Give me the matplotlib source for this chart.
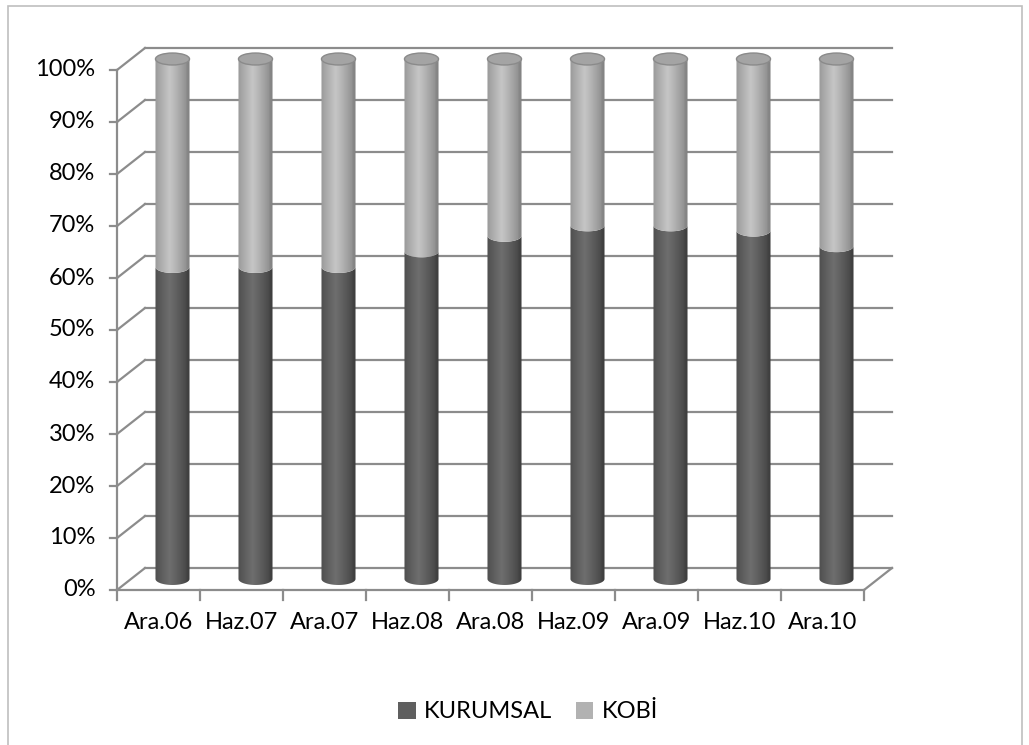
import numpy as np
import matplotlib
matplotlib.use("Agg")
import matplotlib.pyplot as plt
from matplotlib.patches import Ellipse, PathPatch, Patch, Rectangle
from matplotlib.path import Path

plt.rcParams['font.family'] = ['Lato', 'DejaVu Sans']

# periods and stacked shares (percent)
periods = ['Ara.06', 'Haz.07', 'Ara.07', 'Haz.08', 'Ara.08', 'Haz.09', 'Ara.09', 'Haz.10', 'Ara.10']
kurumsal = [60, 60, 60, 63, 66, 68, 68, 67, 64]
kobi = [40, 40, 40, 37, 34, 32, 32, 33, 36]
series_names = ['KURUMSAL', 'KOBİ']
y_ticks = list(range(0, 101, 10))

W, H = 1029, 745
fig = plt.figure(figsize=(W / 100, H / 100), dpi=100)

# oblique depth: front plane at depth -1, back wall at +1
ddx = 14 / 83
ddy = 11 / 5.2

def proj(x, y, depth):
    return x + depth * ddx, y + depth * ddy

# axes placed so that one category = 83 px and 1% = 5.2 px
xlim = (-1.0, 9.2)
ylim = (-6, 106)
px_left = 117 + 83 * (xlim[0] + 0.5 + ddx)
px_right = 117 + 83 * (xlim[1] + 0.5 + ddx)
py_bottom = 579 - 5.2 * ylim[0]
py_top = 579 - 5.2 * ylim[1]
ax = fig.add_axes([px_left / W, 1 - py_bottom / H,
                   (px_right - px_left) / W, (py_bottom - py_top) / H])
ax.set_xlim(*xlim)
ax.set_ylim(*ylim)
ax.axis('off')

grid_c = '#8c8c8c'
lw = 1.6
fs = 17
n = len(periods)
x0, x1 = -0.5, n - 0.5

# back wall gridlines and the depth lines on the left side
for v in y_ticks:
    bx0, by = proj(x0, v, 1)
    bx1, _ = proj(x1, v, 1)
    fx, fy = proj(x0, v, -1)
    ax.plot([bx0, bx1], [by, by], color=grid_c, lw=lw, zorder=1)
    ax.plot([fx, bx0], [fy, by], color=grid_c, lw=lw, zorder=1)
    ax.plot([fx - 0.09, fx], [fy, fy], color=grid_c, lw=lw, zorder=1)
    ax.text(fx - 0.26, fy, f'{v}%', ha='right', va='center', fontsize=fs)

# front value axis and floor edge
fx, fy0 = proj(x0, 0, -1)
_, fy1 = proj(x0, 100, -1)
ax.plot([fx, fx], [fy0, fy1], color=grid_c, lw=lw, zorder=1)
rx, ry = proj(x1, 0, -1)
bx, by = proj(x1, 0, 1)
ax.plot([fx, rx], [fy0, fy0], color=grid_c, lw=lw, zorder=1)
ax.plot([rx, bx], [ry, by], color=grid_c, lw=lw, zorder=1)
for k in range(n + 1):
    tx, ty = proj(x0 + k, 0, -1)
    ax.plot([tx, tx], [ty, ty - 2.0], color=grid_c, lw=lw, zorder=1)
for i, lab in enumerate(periods):
    tx, ty = proj(i, 0, -1)
    ax.text(tx, ty - 6.3, lab, ha='center', va='center', fontsize=fs)

# cylinders
half_w = 0.205
eh = 1.15  # half height of the ellipses, in percent units

def shade(edge, mid):
    t = np.linspace(0, 1, 200)
    prof = np.clip(1 - np.abs(t - 0.42) / 0.58, 0, 1) ** 0.8
    prof[t > 0.9] *= 0.6
    e = np.array(matplotlib.colors.to_rgb(edge))
    m = np.array(matplotlib.colors.to_rgb(mid))
    return (e[None, :] + (m - e)[None, :] * prof[:, None])[None, :, :]

def segment(xc, y0, y1, edge, mid, z):
    th = np.linspace(np.pi, 2 * np.pi, 40)
    lo = np.column_stack([xc + half_w * np.cos(th), y0 + eh * np.sin(th)])
    hi = np.column_stack([xc + half_w * np.cos(th[::-1]), y1 + eh * np.sin(th[::-1])])
    verts = np.vstack([lo, hi, lo[:1]])
    codes = [Path.MOVETO] + [Path.LINETO] * (len(verts) - 2) + [Path.CLOSEPOLY]
    patch = PathPatch(Path(verts, codes), facecolor='none', edgecolor='none', zorder=z)
    ax.add_patch(patch)
    img = ax.imshow(shade(edge, mid), extent=[xc - half_w, xc + half_w, y0 - eh, y1 + eh],
                    aspect='auto', zorder=z, interpolation='bilinear')
    img.set_clip_path(patch)

colors = [('#3c3c3c', '#6e6e6e'), ('#7f7f7f', '#c6c6c6')]
for i in range(n):
    segment(i, 0, kurumsal[i], colors[0][0], colors[0][1], 3)
    segment(i, kurumsal[i], kurumsal[i] + kobi[i], colors[1][0], colors[1][1], 3)
    top = kurumsal[i] + kobi[i]
    ax.add_patch(Ellipse((i, top), 2 * half_w, 2 * eh, facecolor='#a4a4a4',
                         edgecolor='#8a8a8a', lw=1.0, zorder=4))

# legend
handles = [Patch(facecolor='#5f5f5f', edgecolor='none'),
           Patch(facecolor='#b2b2b2', edgecolor='none')]
fig.legend(handles, series_names, loc='center', bbox_to_anchor=(528 / W, 1 - 712 / H),
           ncol=2, frameon=False, fontsize=fs, handlelength=0.75, handleheight=0.75,
           columnspacing=1.0, handletextpad=0.35)

# chart area border
fig.patches.append(Rectangle((8 / W, -0.05), (1022 - 8) / W, 1 - 6 / H + 0.05,
                             transform=fig.transFigure, fill=False,
                             edgecolor='#bfbfbf', lw=1.2))

fig.savefig('out.png', dpi=100)
